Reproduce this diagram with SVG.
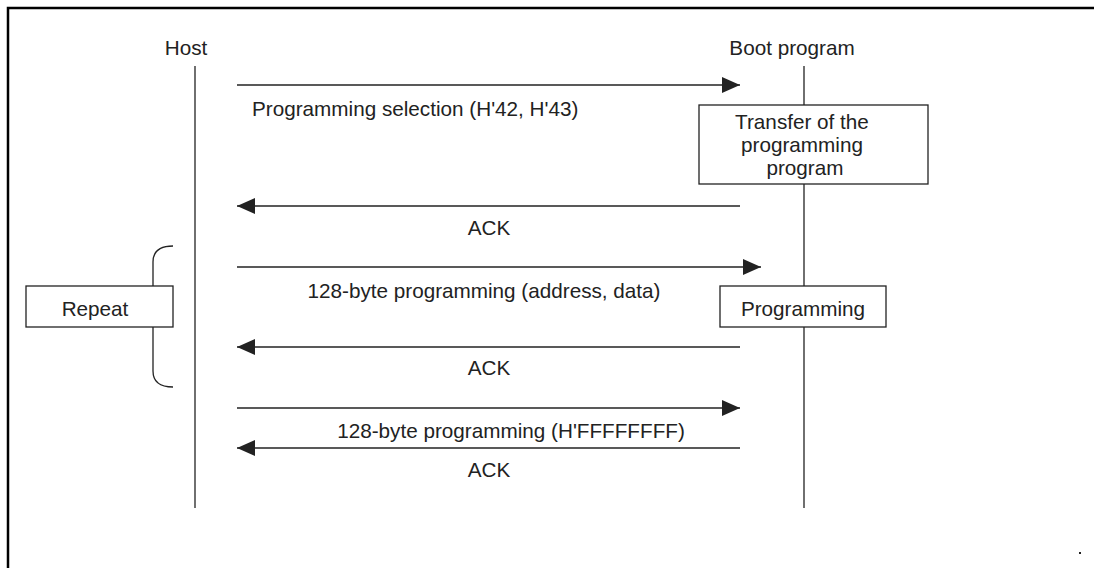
<svg xmlns="http://www.w3.org/2000/svg" width="1094" height="568" viewBox="0 0 1094 568">
<style>
text{font-family:"Liberation Sans",Arial,sans-serif;font-size:20.7px;fill:#222;text-anchor:middle}
.ln{stroke:#222;stroke-width:1.3;fill:none}
.box{stroke:#222;stroke-width:1.3;fill:#fff}
</style>
<defs>
<marker id="ah" markerWidth="18" markerHeight="16" refX="18" refY="8" orient="auto" markerUnits="userSpaceOnUse">
<path d="M0,0 L18,8 L0,16 Z" fill="#222"/>
</marker>
</defs>
<rect width="1094" height="568" fill="#fff"/>
<rect x="8" y="8" width="1100" height="580" fill="none" stroke="#000" stroke-width="2.5"/>
<g id="host">
<text x="186" y="55">Host</text>
<line class="ln" x1="195" y1="66" x2="195" y2="508"/>
</g>
<g id="boot">
<text x="792" y="55">Boot program</text>
<line class="ln" x1="804" y1="66" x2="804" y2="508"/>
</g>
<g id="connectors">
<line class="ln" x1="237" y1="85" x2="740" y2="85" marker-end="url(#ah)"/>
<line class="ln" x1="740" y1="206" x2="237" y2="206" marker-end="url(#ah)"/>
<line class="ln" x1="237" y1="267" x2="761" y2="267" marker-end="url(#ah)"/>
<line class="ln" x1="740" y1="347" x2="237" y2="347" marker-end="url(#ah)"/>
<line class="ln" x1="237" y1="408" x2="740" y2="408" marker-end="url(#ah)"/>
<line class="ln" x1="740" y1="448" x2="237" y2="448" marker-end="url(#ah)"/>
<path class="ln" d="M173,246 Q153,246 153,262 L153,371 Q153,387 173,387"/>
</g>
<g id="labels">
<text x="252" y="116" style="text-anchor:start">Programming selection (H'42, H'43)</text>
<text x="489" y="235">ACK</text>
<text x="484" y="298">128-byte programming (address, data)</text>
<text x="489" y="375">ACK</text>
<text x="511" y="438">128-byte programming (H'FFFFFFFF)</text>
<text x="489" y="477">ACK</text>
</g>
<g id="transfer">
<rect class="box" x="699" y="105" width="229" height="79"/>
<text x="802" y="129">Transfer of the</text>
<text x="802" y="152">programming</text>
<text x="805" y="175">program</text>
</g>
<g id="programming">
<rect class="box" x="720" y="286" width="166" height="41"/>
<text x="803" y="316">Programming</text>
</g>
<g id="repeat">
<rect class="box" x="26" y="286" width="147" height="41"/>
<text x="95" y="316">Repeat</text>
</g>
<rect x="1079" y="552" width="2" height="2" fill="#222"/>
</svg>
